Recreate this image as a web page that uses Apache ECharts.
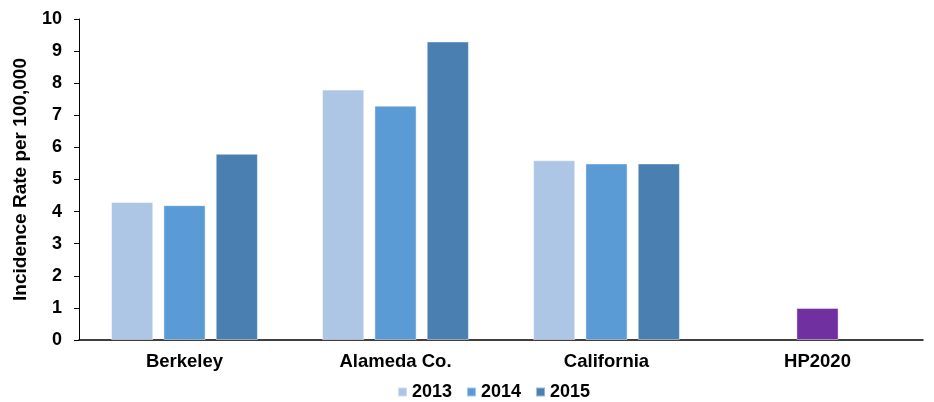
<!DOCTYPE html>
<html>
<head>
<meta charset="utf-8">
<script src="https://cdn.jsdelivr.net/npm/echarts@6/dist/echarts.min.js"></script>
<style>
  html, body { margin: 0; padding: 0; background: #fff; }
  #chart { width: 934px; height: 402px; }
</style>
</head>
<body>
<div id="chart"></div>
<script>
// Incidence rate per 100,000 by area and year
const categories = ['Berkeley', 'Alameda Co.', 'California', 'HP2020'];
const years = ['2013', '2014', '2015'];
const rate2013 = [4.3, 7.8, 5.6, null];
const rate2014 = [4.2, 7.3, 5.5, 1.0];
const rate2015 = [5.8, 9.3, 5.5, null];
const yTicks = [0, 1, 2, 3, 4, 5, 6, 7, 8, 9, 10];

const colors = ['#adc6e6', '#5b9bd5', '#4a7fb1'];
const targetColor = '#7030a0';
const font = 'Liberation Sans, Arial, sans-serif';

const chart = echarts.init(document.getElementById('chart'));

function barSeries(name, values, color) {
  return {
    name: name,
    type: 'bar',
    barWidth: '20%',
    barGap: '24%',
    data: values.map(function (v, i) {
      // the HP2020 target sits in the middle slot and is drawn in purple
      if (categories[i] === 'HP2020' && v !== null) {
        return { value: v, itemStyle: { color: targetColor } };
      }
      return v;
    }),
    itemStyle: {
      color: color,
      borderColor: 'rgba(255,255,255,0.45)',
      borderWidth: 1
    }
  };
}

chart.setOption({
  animation: false,
  textStyle: { fontFamily: font },
  grid: { left: 79, right: 11, top: 19, bottom: 62, containLabel: false },
  legend: {
    data: years,
    top: 378,
    left: 392,
    itemWidth: 9,
    itemHeight: 9,
    itemGap: 14,
    icon: 'rect',
    textStyle: { fontSize: 18, fontWeight: 'bold', color: '#000', fontFamily: font, padding: [0, 0, 0, 0] }
  },
  xAxis: {
    type: 'category',
    data: categories,
    axisLine: { lineStyle: { color: '#000', width: 1.5 } },
    axisTick: { show: false },
    axisLabel: { fontSize: 18.5, fontWeight: 'bold', color: '#000', margin: 12, fontFamily: font }
  },
  yAxis: {
    type: 'value',
    min: yTicks[0],
    max: yTicks[yTicks.length - 1],
    interval: 1,
    name: 'Incidence Rate per 100,000',
    nameLocation: 'middle',
    nameGap: 49,
    nameRotate: 90,
    nameTextStyle: { fontSize: 19, fontWeight: 'bold', color: '#000', fontFamily: font },
    axisLine: { show: true, lineStyle: { color: '#000', width: 1 } },
    axisTick: { show: true, length: 5, lineStyle: { color: '#000' } },
    splitLine: { show: false },
    axisLabel: { fontSize: 18, fontWeight: 'bold', color: '#000', margin: 17, fontFamily: font }
  },
  series: [
    barSeries(years[0], rate2013, colors[0]),
    barSeries(years[1], rate2014, colors[1]),
    barSeries(years[2], rate2015, colors[2])
  ]
});
</script>
</body>
</html>
